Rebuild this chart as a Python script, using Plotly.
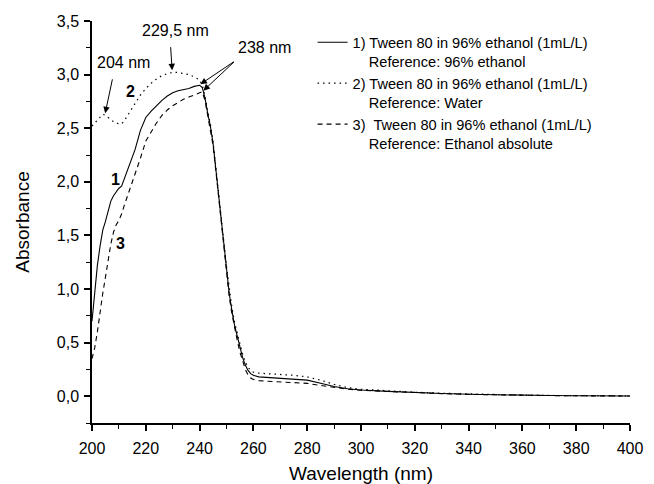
import plotly.graph_objects as go

wavelength = [200, 201, 202, 203, 204, 205, 206, 207, 208, 209, 210, 211, 212,
              214, 216, 218, 220, 222, 224, 226, 228, 230, 232, 234, 236, 238,
              240, 241, 242, 243, 244, 245, 246, 247, 248, 249, 250, 251, 252, 253, 254, 255, 256, 257, 258, 259, 260,
              262, 265, 270, 275, 280, 285, 290, 295, 300, 310, 320, 330, 340, 350, 360, 370, 380, 390, 400]

abs_96_ethanol = [0.70, 1.00, 1.22, 1.40, 1.55, 1.63, 1.74, 1.82, 1.87, 1.91, 1.94, 1.96, 2.03,
                  2.15, 2.30, 2.48, 2.60, 2.66, 2.71, 2.76, 2.80, 2.83, 2.85, 2.86, 2.87, 2.89,
                  2.90, 2.88, 2.78, 2.64, 2.52, 2.36, 2.13, 1.90, 1.66, 1.40, 1.18, 0.96, 0.80, 0.66, 0.56, 0.45, 0.36, 0.29, 0.24, 0.21, 0.195,
                  0.18, 0.175, 0.17, 0.165, 0.15, 0.12, 0.09, 0.07, 0.058, 0.045, 0.033, 0.025, 0.018, 0.012, 0.008, 0.006, 0.004, 0.003, 0.002]

abs_water = [2.52, 2.55, 2.58, 2.61, 2.63, 2.62, 2.60, 2.58, 2.56, 2.55, 2.54, 2.54, 2.57,
             2.65, 2.73, 2.81, 2.87, 2.92, 2.96, 2.99, 3.01, 3.02, 3.02, 3.01, 3.00, 2.98,
             2.95, 2.90, 2.80, 2.66, 2.54, 2.38, 2.16, 1.93, 1.69, 1.44, 1.21, 0.99, 0.83, 0.69, 0.59, 0.48, 0.39, 0.32, 0.27, 0.24, 0.225,
             0.215, 0.21, 0.205, 0.195, 0.18, 0.15, 0.11, 0.08, 0.065, 0.05, 0.037, 0.028, 0.02, 0.014, 0.01, 0.007, 0.005, 0.004, 0.003]

abs_ethanol_abs = [0.35, 0.45, 0.60, 0.80, 0.96, 1.11, 1.28, 1.42, 1.53, 1.60, 1.64, 1.70, 1.78,
                   1.92, 2.06, 2.22, 2.38, 2.47, 2.55, 2.62, 2.67, 2.71, 2.74, 2.77, 2.79, 2.81,
                   2.83, 2.84, 2.76, 2.62, 2.50, 2.34, 2.11, 1.88, 1.64, 1.38, 1.15, 0.93, 0.77, 0.63, 0.52, 0.41, 0.32, 0.25, 0.20, 0.17, 0.155,
                   0.145, 0.14, 0.135, 0.13, 0.12, 0.10, 0.08, 0.065, 0.055, 0.043, 0.032, 0.024, 0.017, 0.011, 0.008, 0.006, 0.004, 0.003, 0.002]

names = ["1) Tween 80 in 96% ethanol (1mL/L)<br>    Reference: 96% ethanol",
         "2) Tween 80 in 96% ethanol (1mL/L)<br>    Reference: Water",
         "3)  Tween 80 in 96% ethanol (1mL/L)<br>    Reference: Ethanol absolute"]
names = [n.replace("    ", "&nbsp;&nbsp;&nbsp;&nbsp;") for n in names]

peak_labels = ["204 nm", "229,5 nm", "238 nm"]
curve_labels = ["1", "2", "3"]

FONT = "Arial, Liberation Sans, sans-serif"

fig = go.Figure()
fig.add_trace(go.Scatter(x=wavelength, y=abs_96_ethanol, mode="lines", name=names[0],
                         line=dict(color="black", width=1.1, dash="solid")))
fig.add_trace(go.Scatter(x=wavelength, y=abs_water, mode="lines", name=names[1],
                         line=dict(color="black", width=1.2, dash="1.5px,4px")))
fig.add_trace(go.Scatter(x=wavelength, y=abs_ethanol_abs, mode="lines", name=names[2],
                         line=dict(color="black", width=1.1, dash="5px,4px")))

# Peak text labels
for (tx, ty), t in zip([(211.6, 3.11), (231.1, 3.41), (264.1, 3.25)], peak_labels):
    fig.add_annotation(x=tx, y=ty, text=t, showarrow=False,
                       font=dict(size=16, color="black", family=FONT))

# Curve number labels
for (lx, ly), lt in zip([(208.7, 2.02), (214.3, 2.84), (210.6, 1.42)], curve_labels):
    fig.add_annotation(x=lx, y=ly, text="<b>" + lt + "</b>", showarrow=False,
                       font=dict(size=16, color="black", family=FONT))

# Arrows
arrows = [
    (207.7, 2.97, 204.9, 2.64),
    (229.2, 3.27, 229.8, 3.04),
    (253.3, 3.13, 240.3, 2.91),
    (253.3, 3.13, 241.4, 2.85),
]
for ax_, ay_, hx, hy in arrows:
    fig.add_annotation(x=hx, y=hy, ax=ax_, ay=ay_, xref="x", yref="y", axref="x", ayref="y",
                       text="", showarrow=True, arrowhead=2, arrowsize=1.3, arrowwidth=1,
                       arrowcolor="black", standoff=0, startstandoff=0)

fig.update_layout(
    width=654, height=484,
    margin=dict(l=92, r=24, t=21, b=61),
    paper_bgcolor="white", plot_bgcolor="white",
    separators=",.",
    font=dict(family=FONT, color="black", size=16),
    showlegend=True,
    legend=dict(x=0.41, y=0.987, xanchor="left", yanchor="top", valign="top",
                bgcolor="rgba(0,0,0,0)", font=dict(size=14.6, family=FONT, color="black"),
                tracegroupgap=0, itemwidth=30),
)
fig.update_xaxes(range=[200, 400], showline=True, linecolor="black", linewidth=1.5,
                 ticks="outside", ticklen=6, tickwidth=1.5, tickcolor="black",
                 dtick=20, tick0=200, showgrid=False, zeroline=False, automargin=False,
                 minor=dict(ticks="outside", ticklen=4, tickwidth=1.2, tickcolor="black", dtick=10, showgrid=False),
                 tickfont=dict(size=16, family=FONT), ticklabelstandoff=4,
                 title=dict(text="Wavelength (nm)", font=dict(size=19, family=FONT), standoff=14))
fig.update_yaxes(range=[-0.25, 3.5], showline=True, linecolor="black", linewidth=1.5,
                 ticks="outside", ticklen=6, tickwidth=1.5, tickcolor="black",
                 dtick=0.5, tick0=0, tickformat=".1f", showgrid=False, zeroline=False, automargin=False,
                 minor=dict(ticks="outside", ticklen=4, tickwidth=1.2, tickcolor="black", dtick=0.25, tick0=0, showgrid=False),
                 tickfont=dict(size=16, family=FONT), ticklabelstandoff=2,
                 title=dict(text="Absorbance", font=dict(size=19, family=FONT), standoff=22))

fig.write_html("out.html")
